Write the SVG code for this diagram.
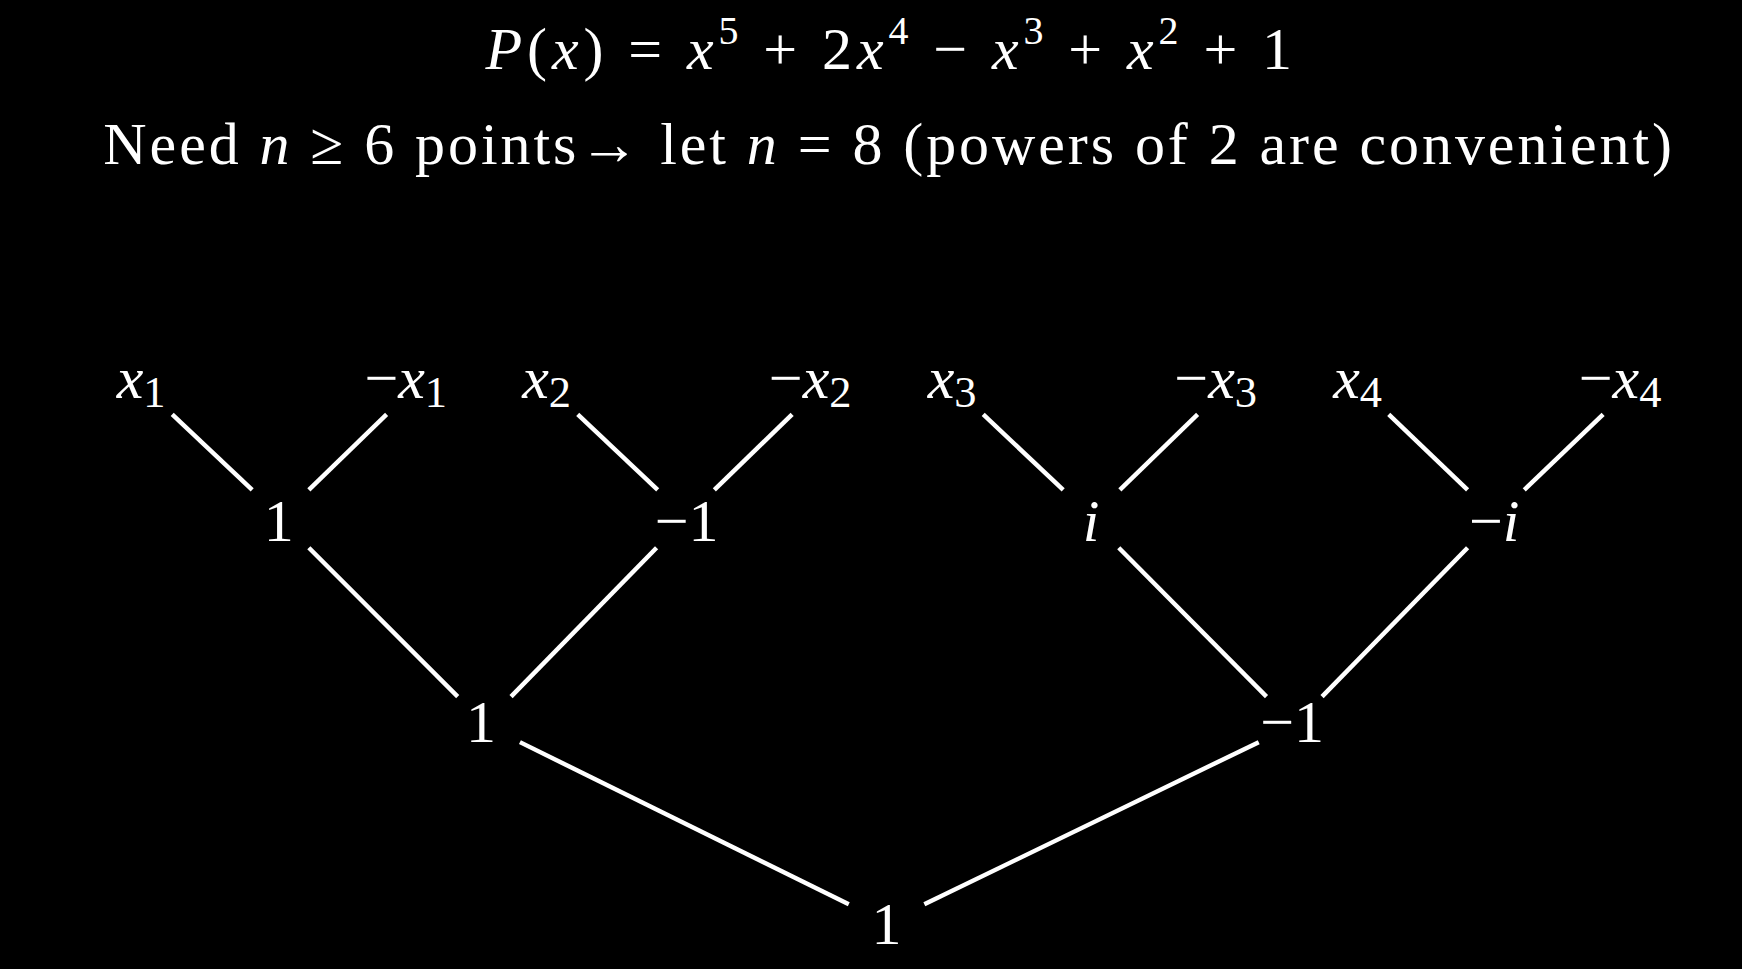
<svg xmlns="http://www.w3.org/2000/svg" width="1742" height="969" viewBox="0 0 1742 969">
<style>
text{font-family:"Liberation Serif","DejaVu Serif",serif;fill:#fff;font-size:54px}
.v{font-style:italic}
.s{font-size:36px}
.l{font-size:54px}
.l .s{font-size:40px}
.n{text-anchor:middle}
#connectors line{stroke:#fff;stroke-width:4}
</style>
<rect width="1742" height="969" fill="#000"/>
<g transform="scale(1.11097)">
<g id="title">
<text x="437" y="62" textLength="726" lengthAdjust="spacing"><tspan class="v">P</tspan>(<tspan class="v">x</tspan>) = <tspan class="v">x</tspan><tspan class="s" dy="-22">5</tspan><tspan dy="22"> + 2</tspan><tspan class="v">x</tspan><tspan class="s" dy="-22">4</tspan><tspan dy="22"> − </tspan><tspan class="v">x</tspan><tspan class="s" dy="-22">3</tspan><tspan dy="22"> + </tspan><tspan class="v">x</tspan><tspan class="s" dy="-22">2</tspan><tspan dy="22"> + 1</tspan></text>
<text x="93" y="148" textLength="1412" lengthAdjust="spacing">Need <tspan class="v">n</tspan> ≥ 6 points→ let <tspan class="v">n</tspan> = 8 (powers of 2 are convenient)</text>
</g>
<g id="n-x1"><text class="l" x="105" y="358"><tspan class="v">x</tspan><tspan class="s" dy="8">1</tspan></text></g>
<g id="n-mx1"><text class="l" x="328" y="358">−<tspan class="v">x</tspan><tspan class="s" dy="8">1</tspan></text></g>
<g id="n-x2"><text class="l" x="470" y="358"><tspan class="v">x</tspan><tspan class="s" dy="8">2</tspan></text></g>
<g id="n-mx2"><text class="l" x="692" y="358">−<tspan class="v">x</tspan><tspan class="s" dy="8">2</tspan></text></g>
<g id="n-x3"><text class="l" x="835" y="358"><tspan class="v">x</tspan><tspan class="s" dy="8">3</tspan></text></g>
<g id="n-mx3"><text class="l" x="1057" y="358">−<tspan class="v">x</tspan><tspan class="s" dy="8">3</tspan></text></g>
<g id="n-x4"><text class="l" x="1200" y="358"><tspan class="v">x</tspan><tspan class="s" dy="8">4</tspan></text></g>
<g id="n-mx4"><text class="l" x="1421" y="358">−<tspan class="v">x</tspan><tspan class="s" dy="8">4</tspan></text></g>
<g id="n-a1"><text class="l n" x="251" y="487">1</text></g>
<g id="n-am1"><text class="l n" x="618" y="487">−1</text></g>
<g id="n-ai"><text class="l n v" x="982" y="487">i</text></g>
<g id="n-ami"><text class="l n" x="1345" y="487">−<tspan class="v">i</tspan></text></g>
<g id="n-b1"><text class="l n" x="433" y="668">1</text></g>
<g id="n-bm1"><text class="l n" x="1163" y="668">−1</text></g>
<g id="n-c1"><text class="l n" x="798" y="850">1</text></g>
<g id="connectors">
<line x1="155" y1="373" x2="227" y2="441"/><line x1="348" y1="373" x2="278" y2="441"/>
<line x1="520" y1="373" x2="592" y2="441"/><line x1="713" y1="373" x2="643" y2="441"/>
<line x1="885" y1="373" x2="957" y2="441"/><line x1="1078" y1="373" x2="1008" y2="441"/>
<line x1="1250" y1="373" x2="1321" y2="441"/><line x1="1443" y1="373" x2="1372" y2="441"/>
<line x1="278" y1="493" x2="412" y2="627"/><line x1="591" y1="493" x2="460" y2="627"/>
<line x1="1007" y1="493" x2="1140" y2="627"/><line x1="1321" y1="493" x2="1190" y2="627"/>
<line x1="468" y1="668" x2="764" y2="814"/><line x1="1133" y1="668" x2="832" y2="814"/>
</g>
</g>
</svg>
